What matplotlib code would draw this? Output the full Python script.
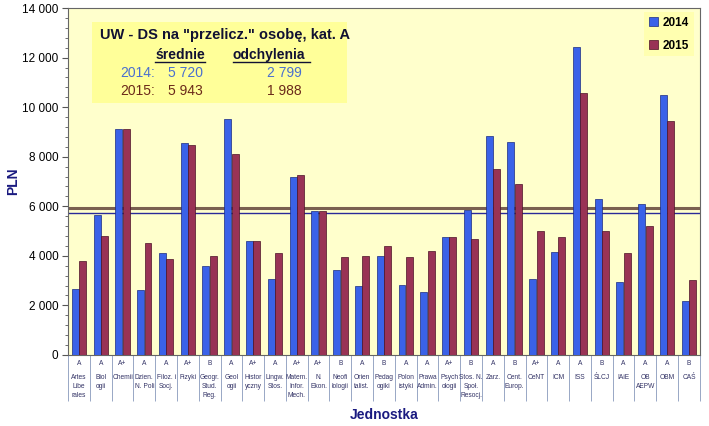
import matplotlib.pyplot as plt
import matplotlib.ticker as mticker
import matplotlib.transforms as mtrans
import numpy as np

plt.rcParams['font.family'] = ['Liberation Sans', 'DejaVu Sans']

grades = ['A', 'A', 'A+', 'A', 'A', 'A+', 'B', 'A', 'A+', 'A', 'A+', 'A+', 'B', 'A', 'B',
          'A', 'A', 'A+', 'B', 'A', 'B', 'A+', 'A', 'A', 'B', 'A', 'A', 'A', 'B']
units = ['Artes\nLibe\nrales', 'Biol\nogii', 'Chemii', 'Dzien.\nN. Poli', 'Filoz. i\nSocj.',
         'Fizyki', 'Geogr.\nStud.\nReg.', 'Geol\nogii', 'Histor\nyczny', 'Lingw.\nStos.',
         'Matem.\nInfor.\nMech.', 'N.\nEkon.', 'Neofi\nlologii', 'Orien\ntalist.', 'Pedag\nogiki',
         'Polon\nistyki', 'Prawa\nAdmin.', 'Psych\nologii', 'Stos. N.\nSpoł.\nResocj.', 'Zarz.',
         'Cent.\nEurop.', 'CeNT', 'ICM', 'ISS', 'ŚLCJ', 'IAiE', 'OB\nAEPW', 'OBM', 'CAŚ']
v2014 = [2660, 5640, 9110, 2620, 4110, 8540, 3590, 9510, 4600, 3060, 7170, 5800, 3430, 2780, 3990,
         2820, 2540, 4760, 5840, 8830, 8580, 3060, 4150, 12410, 6290, 2940, 6090, 10480, 2180]
v2015 = [3790, 4800, 9110, 4510, 3870, 8460, 3990, 8100, 4600, 4110, 7250, 5800, 3950, 3990, 4390,
         3950, 4190, 4760, 4670, 7500, 6890, 5000, 4750, 10560, 5000, 4110, 5200, 9430, 3020]
mean_2014, sd_2014 = 5720, 2799
mean_2015, sd_2015 = 5943, 1988

c14 = '#3a62e8'
c15 = '#993355'
navy = '#1a1a80'

fig = plt.figure(figsize=(7.09, 4.26), dpi=100)
ax = fig.add_axes([0.096, 0.167, 0.891, 0.814])
ax.set_facecolor('#ffffcc')

x = np.arange(len(units)) + 0.5
w = 0.32
ax.bar(x - w / 2 - 0.01, v2014, w, color=c14, edgecolor='#1a2a80', linewidth=0.5,
       label='2014', zorder=3)
ax.bar(x + w / 2 + 0.01, v2015, w, color=c15, edgecolor='#4a1025', linewidth=0.5,
       label='2015', zorder=3)

ax.axhline(mean_2015, color='#7a6050', lw=2.2, zorder=2)
ax.axhline(mean_2014, color='#2a2a99', lw=1.0, zorder=2)

ax.set_xlim(0, len(units))
ax.set_ylim(0, 14000)
ax.yaxis.set_major_locator(mticker.MultipleLocator(2000))
ax.yaxis.set_minor_locator(mticker.MultipleLocator(400))
ax.yaxis.set_major_formatter(mticker.FuncFormatter(lambda v, p: f'{int(v):,}'.replace(',', ' ')))
ax.tick_params(axis='y', labelsize=8.5, length=4, color='#555555', pad=3)
ax.tick_params(axis='y', which='minor', length=2, color='#555555')
ax.set_xticks(np.arange(len(units) + 1))
ax.set_xticklabels([])
ax.tick_params(axis='x', length=33, width=0.6, color='#8899bb')
for s in ax.spines.values():
    s.set_color('#666666')
    s.set_linewidth(0.8)

trans = mtrans.blended_transform_factory(ax.transData, ax.transAxes)
for i, (g, u) in enumerate(zip(grades, units)):
    ax.text(x[i], -0.025, g, transform=trans, ha='center', va='center', fontsize=4.8,
            color='#333366')
    ax.text(x[i], -0.055, u, transform=trans, ha='center', va='top', fontsize=4.8,
            color='#333366', linespacing=1.45)

fig.text(13 / 709, 1 - 181 / 426, 'PLN', rotation=90, fontsize=10, fontweight='bold',
         color=navy, ha='center', va='center')
fig.text(384 / 709, 1 - 415 / 426, 'Jednostka', fontsize=10, fontweight='bold',
         color=navy, ha='center', va='center')

# info box
box = plt.Rectangle((0.038, 0.726), 0.403, 0.234, transform=ax.transAxes,
                    facecolor='#ffff99', edgecolor='none', zorder=4)
ax.add_patch(box)
dark = '#111133'
ax.text(0.051, 0.922, 'UW - DS na "przelicz." osobę, kat. A', transform=ax.transAxes,
        fontsize=10.5, fontweight='bold', color=dark, va='center', zorder=5)
ax.text(0.138, 0.865, 'średnie', transform=ax.transAxes, fontsize=10, fontweight='bold',
        color=dark, va='center', zorder=5)
ax.text(0.261, 0.865, 'odchylenia', transform=ax.transAxes, fontsize=10, fontweight='bold',
        color=dark, va='center', zorder=5)
ax.plot([0.138, 0.217], [0.845, 0.845], transform=ax.transAxes, color=dark, lw=1, zorder=5)
ax.plot([0.261, 0.383], [0.845, 0.845], transform=ax.transAxes, color=dark, lw=1, zorder=5)
for yy, yr, m, sd, col in [(0.813, '2014', mean_2014, sd_2014, '#4a6fcf'),
                           (0.761, '2015', mean_2015, sd_2015, '#6b2a1a')]:
    ax.text(0.082, yy, f'{yr}:', transform=ax.transAxes, fontsize=10, color=col,
            va='center', zorder=5)
    ax.text(0.158, yy, f'{m:,}'.replace(',', ' '), transform=ax.transAxes, fontsize=10,
            color=col, va='center', zorder=5)
    ax.text(0.343, yy, f'{sd:,}'.replace(',', ' '), transform=ax.transAxes, fontsize=10,
            color=col, va='center', ha='center', zorder=5)

leg = ax.legend(loc='upper right', bbox_to_anchor=(1.0, 1.005),
                prop={'weight': 'bold', 'size': 8.5}, frameon=True, fancybox=False,
                handlelength=0.8, handleheight=0.8, handletextpad=0.4, borderpad=0.4,
                labelspacing=0.9)
leg.get_frame().set_facecolor('#ffffaa')
leg.get_frame().set_edgecolor('none')
leg.set_zorder(6)

fig.savefig('out.png', dpi=100)
